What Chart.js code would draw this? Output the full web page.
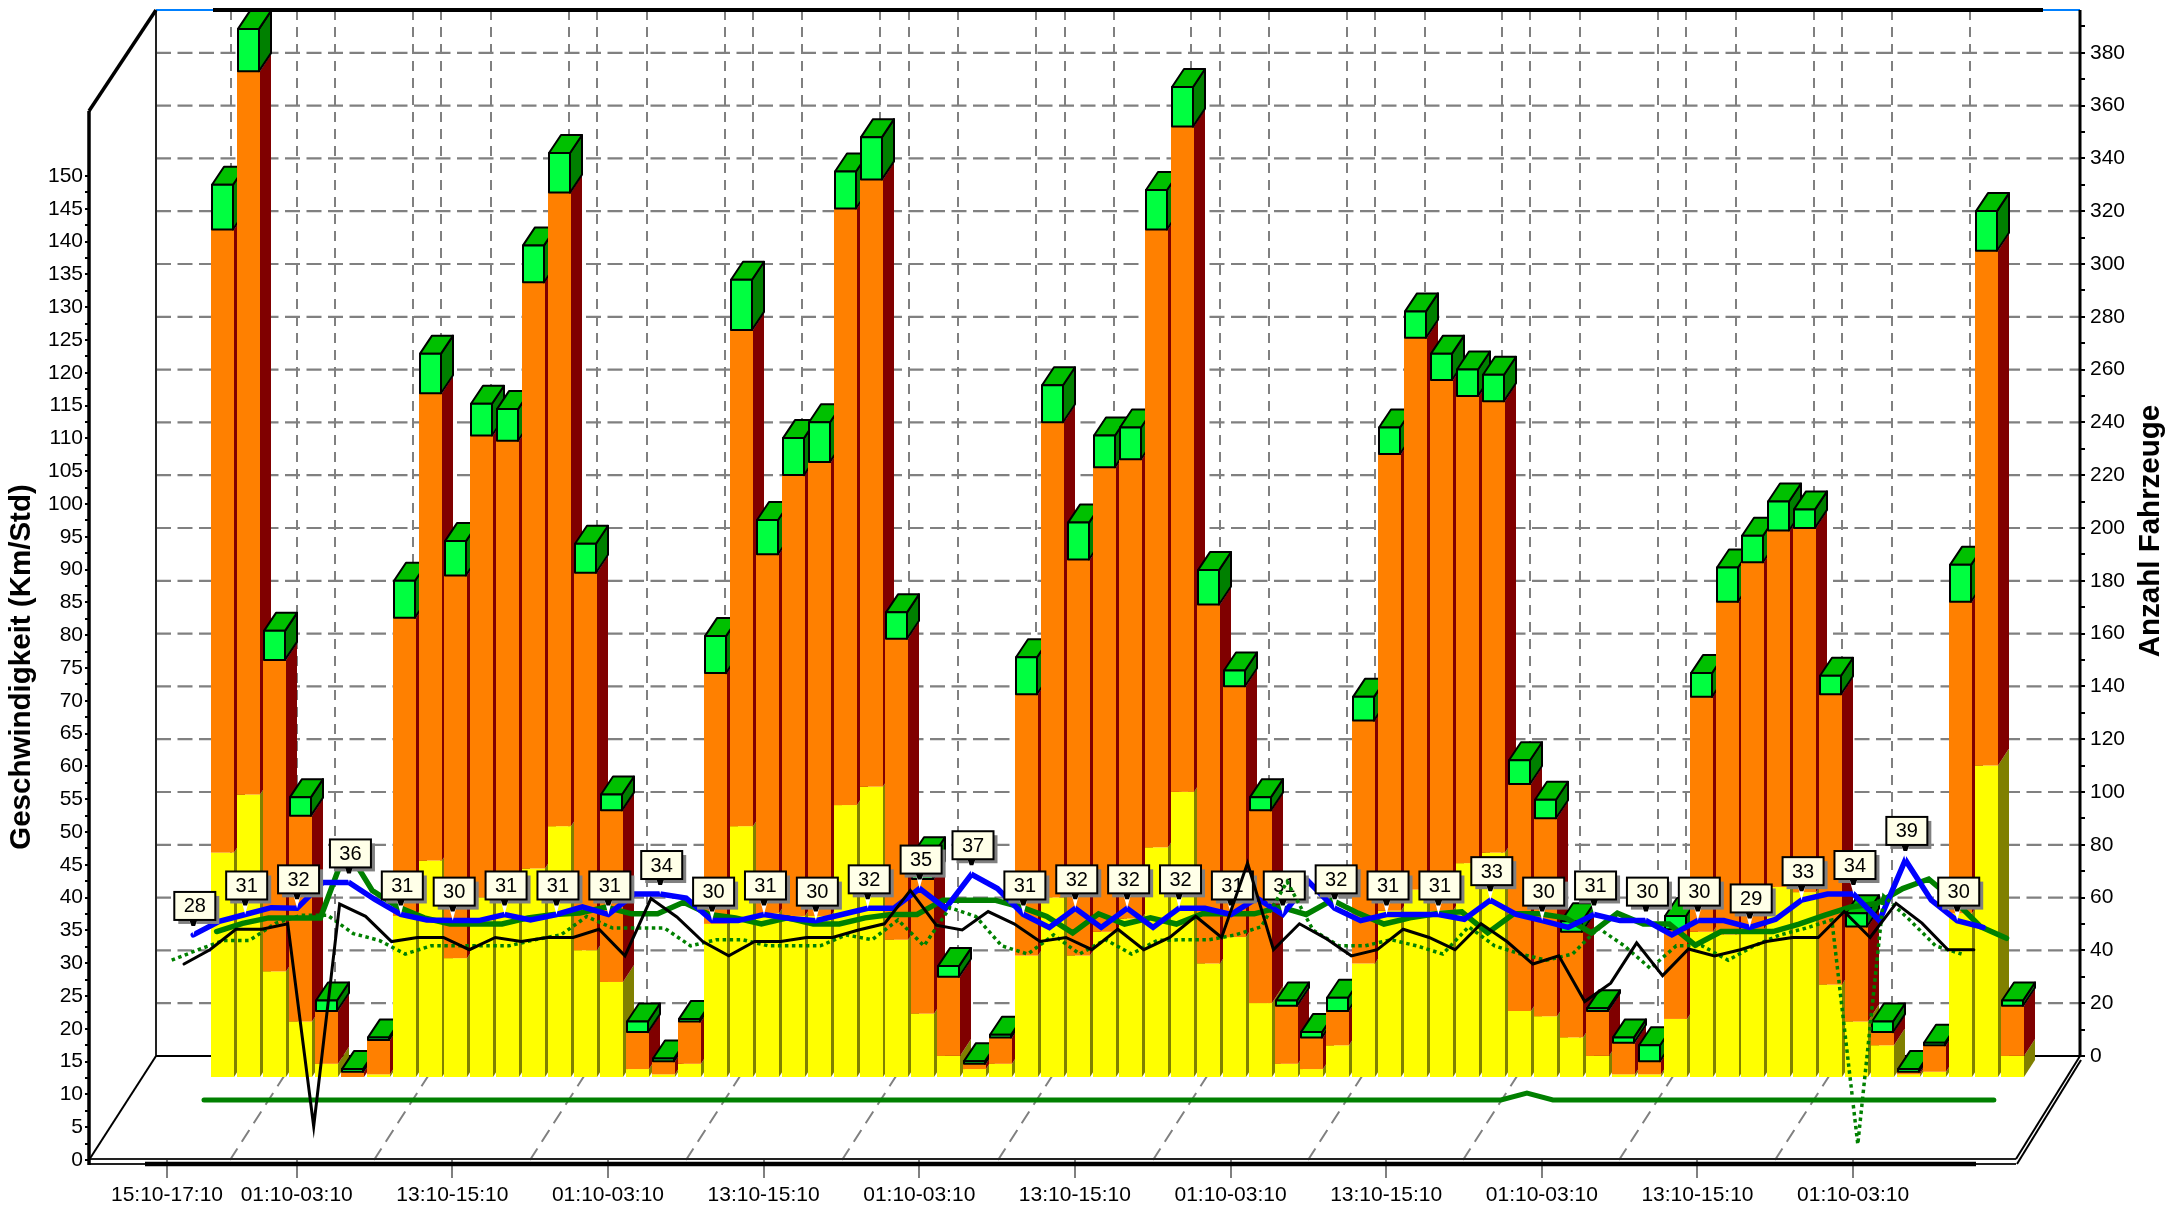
<!DOCTYPE html>
<html><head><meta charset="utf-8">
<style>html,body{margin:0;padding:0;background:#fff}canvas{display:block}</style>
<script src="https://cdn.jsdelivr.net/npm/chart.js@4/dist/chart.umd.min.js"></script>
</head><body><canvas id="c" width="2179" height="1215"></canvas>
<script>
const tickIndex=[0,5,11,17,23,29,35,41,47,53,59,65];
const tickLabels=["15:10-17:10","01:10-03:10","13:10-15:10","01:10-03:10","13:10-15:10","01:10-03:10","13:10-15:10","01:10-03:10","13:10-15:10","01:10-03:10","13:10-15:10","01:10-03:10"];
const carsYellow=[85,107,40,21,5,0,1,61,82,45,68,68,79,95,48,36,3,1,5,58,95,62,61,61,103,110,52,24,8,3,5,46,68,46,55,60,87,108,43,53,28,5,3,12,43,63,71,63,81,85,25,23,15,8,1,1,22,55,54,56,72,70,35,21,12,1,2,62,118,8];
const carsOrange=[236,274,118,78,20,2,13,113,177,145,175,173,222,240,143,65,14,5,16,95,188,136,167,172,226,230,114,51,30,2,10,99,180,150,176,174,234,252,136,95,73,22,12,13,92,173,209,201,177,171,86,75,40,17,12,5,34,89,126,139,135,138,110,36,5,1,10,118,195,19];
const carsGreen=[17,16,11,7,4,1,1,14,15,13,12,12,14,15,11,6,4,1,1,14,19,13,14,15,14,16,10,9,4,1,1,14,14,14,12,12,15,15,13,6,5,2,2,5,9,10,10,10,10,10,9,7,4,1,2,6,5,9,13,10,11,7,7,5,4,1,1,14,15,2];
const speedBlue=[28,30,31,32,31.9,35.7,35.7,33.2,31,30.2,30.1,30.1,31,30.2,31,32.1,31,34,34,33.4,30.1,30.1,31,30.4,30.1,31,31.9,31.9,34.8,31.9,36.9,34.8,31,29.1,31.9,29.1,31.9,29.1,31.9,31.9,31,33.4,31,35.8,31.9,30.1,31,31,31,30.3,33.1,31,30.1,29.1,31,30.1,30.1,28,30.1,30.1,29.1,30.3,33.1,34,34,30.1,39,33.1,30.1,29.1];
const speedGreen=[null,28.5,29.7,30.5,30.5,30.5,40.7,34.5,32.1,30.5,29.6,29.6,29.6,30.5,31,31.2,32.1,31.1,31.1,32.8,31,30.5,29.6,30.5,29.6,29.6,30.5,31,31,33.1,33.1,33.1,32.1,30.7,28.3,31.1,29.6,30.5,29.6,31.1,31.1,31.1,32.1,31,33.1,31.2,29.6,30.5,31.1,31.4,28.3,31.1,31.1,30.5,28.3,31.2,29.6,29.6,26.5,28.5,28.5,28.5,29.6,30.9,32.1,32.6,34.8,36.2,33,29.2,27.5];
const speedBlack=[25.8,27.9,30.9,30.9,31.7,2,34.6,32.8,29.1,29.7,29.7,27.9,29.7,29.1,29.7,29.7,30.9,27,35.4,32.7,29.1,27,29.1,29.1,29.7,29.7,30.8,31.7,36.6,31.5,30.8,33.5,31.7,29.1,29.7,27.9,30.9,27.9,29.7,32.8,29.7,40.6,27.9,31.7,29.6,27,27.9,30.9,29.7,27.9,31.7,29.1,25.8,27,20.3,23,28.9,24.1,28,27,27.9,29.1,29.7,29.7,33.5,29.7,34.7,31.8,27.9,27.9];
const speedDotted=[29.3,30.8,32.2,32.2,34.7,35.9,35.9,33.2,32.2,30.2,31.4,31.4,31.4,31.4,32.3,33,35.7,34,34,34,31.4,32.3,32.3,31.4,31.4,31.4,33,32.3,35.2,31.4,37,35.7,31.4,30.2,33,30.2,32.3,30.2,32.2,32.3,32.3,33,34.2,40.8,33.7,31.4,31.4,32.3,31.4,30.2,34.2,31.4,30.2,29.3,30.2,34,31.4,28.1,31.4,31.4,29.3,31.4,33,34,35.2,2.3,38.7,35.2,31.4,30.2];
const speedFlat=[0,0,0,0,0,0,0,0,0,0,0,0,0,0,0,0,0,0,0,0,0,0,0,0,0,0,0,0,0,0,0,0,0,0,0,0,0,0,0,0,0,0,0,0,0,0,0,0,0,0,0,1,0,0,0,0,0,0,0,0,0,0,0,0,0,0,0,0,0,0];
const speedLabels=[28,31,32,36,31,30,31,31,31,34,30,31,30,32,35,37,31,32,32,32,31,31,32,31,31,33,30,31,30,30,29,33,34,39,30];
const leftTicks=[0,5,10,15,20,25,30,35,40,45,50,55,60,65,70,75,80,85,90,95,100,105,110,115,120,125,130,135,140,145,150];
const rightTicks=[0,20,40,60,80,100,120,140,160,180,200,220,240,260,280,300,320,340,360,380];
const yTitleLeft="Geschwindigkeit (Km/Std)", yTitleRight="Anzahl Fahrzeuge";

const L=89,R=2080,T=10,B=1160,STEP=25.94;
const xr=(x0,s=STEP)=>({type:'linear',display:false,offset:false,min:(L-x0)/s,max:(R-x0)/s});
const yr=(y0,k)=>({type:'linear',display:false,min:(y0-B)/k,max:(y0-T)/k});
const pts=a=>a.map((v,i)=>({x:i,y:v}));
const FONT='"Liberation Sans"';

function poly(c,p,fill,stroke,lw){c.beginPath();p.forEach((q,i)=>i?c.lineTo(q[0],q[1]):c.moveTo(q[0],q[1]));c.closePath();
  if(fill){c.fillStyle=fill;c.fill()} if(stroke){c.strokeStyle=stroke;c.lineWidth=lw||2;c.lineJoin='round';c.stroke()}}
function seg(c,x1,y1,x2,y2,col,w,dash){c.beginPath();c.setLineDash(dash||[]);c.moveTo(x1,y1);c.lineTo(x2,y2);c.strokeStyle=col;c.lineWidth=w;c.stroke();c.setLineDash([])}

const wallFine=[335,413,491,569,647,725,802,880,958,1036,1114,1191,1269,1347,1425,1502,1580,1658,1736,1814,1892,1970];
const wallMajor=[297,441,597,753,909,1065,1220,1375,1530,1686,1842];
const scene={id:'scene',
 afterLayout(ch){
   Object.values(ch.scales).forEach(s=>{
     if(s.options.display===false){s.left=L;s.right=R;s.width=R-L;s.top=T;s.bottom=B;s.height=B-T;}
     else if(s.axis==='y'){s.top=T;s.bottom=B;s.height=B-T;if(s.id==='y'){s.left=0;s.right=L;s.width=L}else{s.left=R;s.right=2179;s.width=2179-R}}
     else{s.left=L;s.right=R;s.width=R-L;s.top=B;s.bottom=1215;s.height=1215-B;}
     s.configure();});
   Object.assign(ch.chartArea,{left:L,right:R,top:T,bottom:B,width:R-L,height:B-T});},
 beforeDraw(ch){const c=ch.ctx,yR=ch.scales.yR,W=156,F=1056;c.save();
  seg(c,231,T,231,F,'#808080',2,[10,7]);
  wallFine.forEach(x=>seg(c,x,T,x,F,'#808080',2,[10,7]));
  wallMajor.forEach(x=>{seg(c,x,T,x,F,'#808080',2,[10,7]);seg(c,x,F,x-67,B,'#808080',2,[14,8])});
  rightTicks.forEach(v=>{if(v>0){const y=yR.getPixelForValue(v);seg(c,W,y,R,y,'#808080',2.2,[15,6.5])}});
  seg(c,W,T,W,F,'#222',2);
  seg(c,W,F,R,F,'#000',2);
  seg(c,L,B,W,F,'#000',2);
  seg(c,W,T,R,T,'#0080ff',2);
  seg(c,213,T,2043,T,'#000',4);
  seg(c,R,T,R,F,'#000',3);
  seg(c,L,111,W,T,'#000',3.5);
  c.restore();},
 beforeDatasetDraw(ch,a){if(a.meta.type==='bar')return false;},
 beforeDatasetsDraw(ch){const c=ch.ctx;c.save();const m=[0,1,2].map(i=>ch.getDatasetMeta(i));
  const front=['#ffff00','#ff8000'],side=['#808000','#800000'],dx=11,dy=17;
  for(let i=0;i<carsYellow.length;i++){
   for(let l=0;l<2;l++){const e=m[l].data[i],h=e.base-e.y;if(h<0.5)continue;
     const x0=Math.round(e.x-e.width/2),x1=Math.round(e.x+e.width/2);
     poly(c,[[x1,e.y],[x1+dx,e.y-dy],[x1+dx,e.base-dy],[x1,e.base]],side[l]);
     c.fillStyle=front[l];c.fillRect(x0,e.y,x1-x0,h);}
   const g=m[2].data[i],x0=Math.round(g.x-g.width/2)+1,x1=Math.round(g.x+g.width/2)-1,ddx=12,ddy=18;
   poly(c,[[x1,g.y],[x1+ddx,g.y-ddy],[x1+ddx,g.base-ddy],[x1,g.base]],'#008000','#000',2);
   poly(c,[[x0,g.y],[x0+ddx,g.y-ddy],[x1+ddx,g.y-ddy],[x1,g.y]],'#00c000','#000',2);
   poly(c,[[x0,g.y],[x1,g.y],[x1,g.base],[x0,g.base]],'#00ff40','#000',2);
  }
  c.restore();},
 afterDatasetDraw(ch,a){ if(ch.data.datasets[a.index].label!=='Geschwindigkeit')return;
  const c=ch.ctx;c.save();c.font='20px '+FONT;c.textAlign='center';c.textBaseline='middle';
  speedLabels.forEach((t,n)=>{const p=a.meta.data[n*2];if(!p)return;
    const w=41,h=28,cx=p.x+1.5,bot=p.y-15,x=cx-w/2,y=bot-h;
    c.fillStyle='#808080';c.fillRect(x+4,y+4,w,h);
    poly(c,[[p.x-4,bot],[p.x+4,bot],[p.x,p.y]],'#fff');
    poly(c,[[p.x-4,bot],[p.x+4,bot],[p.x+1.8,bot+6],[p.x-1.8,bot+6]],'#000');
    c.fillStyle='#ffffe8';c.fillRect(x,y,w,h);c.strokeStyle='#000';c.lineWidth=2;c.strokeRect(x,y,w,h);
    c.fillStyle='#000';c.fillText(String(t),cx,y+h/2+1);});
  c.restore();},
 afterDraw(ch){const c=ch.ctx;c.save();
  seg(c,L,B-1,2016,B-1,'#222',2);seg(c,L,B+4,2016,B+4,'#222',2);seg(c,145,B+4,1976,B+4,'#000',4.5);
  seg(c,R,1056,2016,B-1,'#000',2);seg(c,R+1,1060,2017,B+4,'#000',2);
  seg(c,L,111,L,B+5,'#000',3.5);
  c.fillStyle='#000';c.font='bold 29.5px '+FONT;c.textAlign='center';c.textBaseline='middle';
  [[22,667,ch.options.scales.y.title.text],[2151,531,ch.options.scales.yR.title.text]].forEach(([x,y,t])=>{c.save();c.translate(x,y);c.rotate(-Math.PI/2);c.fillText(t,0,0);c.restore();});
  c.restore();}
};

const bar=(label,d,col)=>({type:'bar',label,data:pts(d),backgroundColor:col,xAxisID:'xB',yAxisID:'yB',stack:'cars',grouped:false,barPercentage:1,categoryPercentage:1,maxBarThickness:23,order:10});
const line=(label,d,col,w,xa,ya,o,dash)=>({type:'line',label,data:pts(d),borderColor:col,borderWidth:w,pointRadius:0,tension:0,xAxisID:xa,yAxisID:ya,order:o,borderDash:dash||[],borderCapStyle:dash?'butt':'round',borderJoinStyle:'miter',spanGaps:false,fill:false});

new Chart(document.getElementById('c'),{
 data:{labels:tickLabels,datasets:[
  bar('Fahrzeuge niedrig',carsYellow,'#ffff00'),
  bar('Fahrzeuge mittel',carsOrange,'#ff8000'),
  bar('Fahrzeuge hoch',carsGreen,'#00ff40'),
  line('Basis',speedFlat,'#008000',5,'xF','yF',5),
  line('Mittel',speedGreen,'#008000',5.5,'xG','yS',4),
  line('Geschwindigkeit',speedBlue,'#0000ff',5.5,'xL','yS',3),
  line('Minimum',speedDotted,'#008000',3.5,'xD','yD',2,[3.5,3.5]),
  line('Median',speedBlack,'#000',3,'xK','yK',1)
 ]},
 options:{responsive:false,animation:false,devicePixelRatio:1,events:[],layout:{padding:{top:T,left:0,right:0,bottom:0}},
  plugins:{legend:{display:false},tooltip:{enabled:false},title:{display:false}},
  scales:{
   x:{type:'linear',position:'bottom',offset:false,min:(L-167)/STEP,max:(R-167)/STEP,
      afterBuildTicks(s){s.ticks=tickIndex.map(v=>({value:v}))},
      afterFit(s){s.height=1215-B},
      grid:{drawOnChartArea:false,tickLength:18,color:'#808080',lineWidth:2},border:{display:false},
      ticks:{autoSkip:false,maxRotation:0,minRotation:0,padding:5,color:'#000',font:{family:FONT,size:21},callback(v){const i=tickIndex.indexOf(v);return i<0?'':tickLabels[i]}}},
   y:{type:'linear',position:'left',min:(1160-B)/6.56,max:(1160-T)/6.56,
      title:{display:false,text:yTitleLeft},
      afterBuildTicks(s){const o=[];leftTicks.forEach(v=>{o.push({value:v});if(v<150)o.push({value:v+2.5})});s.ticks=o},
      afterFit(s){s.width=L},
      grid:{drawOnChartArea:false,tickLength:4,color:'#000',lineWidth:2},border:{display:false},
      ticks:{autoSkip:false,padding:2,color:'#000',font:{family:FONT,size:21},callback(v){return leftTicks.includes(v)?String(v):''}}},
   yR:{type:'linear',position:'right',min:(1056-B)/2.64,max:(1056-T)/2.64,
      title:{display:false,text:yTitleRight},
      afterBuildTicks(s){const o=[];rightTicks.forEach(v=>{o.push({value:v});o.push({value:v+10})});s.ticks=o},
      afterFit(s){s.width=2179-R},
      grid:{drawOnChartArea:false,tickLength:5,color:'#000',lineWidth:2},border:{display:false},
      ticks:{autoSkip:false,padding:5,color:'#000',font:{family:FONT,size:21},callback(v){return rightTicks.includes(v)?String(v):''}}},
   xB:{...xr(222.5),stacked:true,grid:{offset:false}},
   yB:{...yr(1077,2.64),stacked:true},
   xL:xr(193.3),xG:xr(190.7),xK:xr(184),xD:xr(171.7),xF:xr(204),
   yS:yr(1125.9,6.82),yK:yr(1140,6.82),yD:yr(1160,6.82),yF:yr(1100,6.82)
  }},
 plugins:[scene]
});
</script></body></html>
